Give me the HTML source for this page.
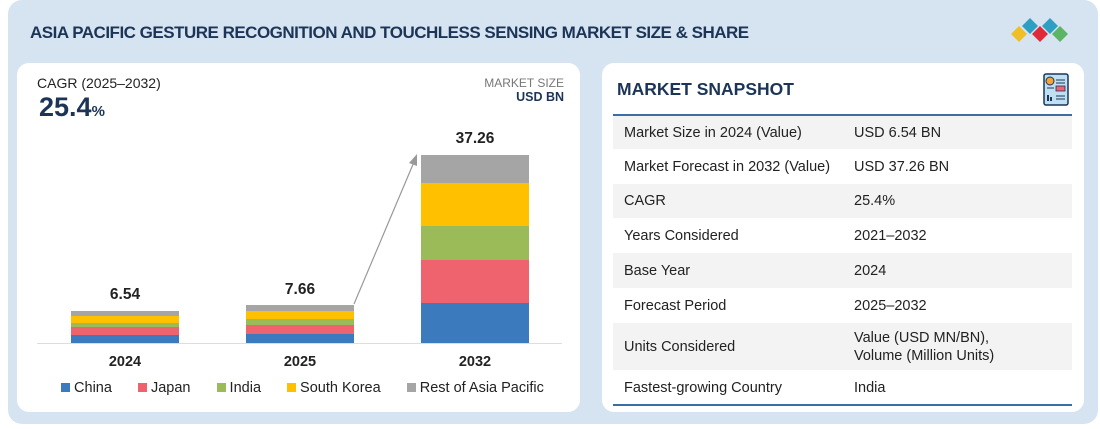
<!DOCTYPE html>
<html><head><style>
*{margin:0;padding:0;box-sizing:border-box}
body{width:1100px;height:429px;background:#fff;font-family:"Liberation Sans",sans-serif;position:relative;overflow:hidden}
.a{position:absolute}
.outer{left:8px;top:0;width:1090px;height:424px;background:#d6e4f1;border-radius:14px}
.card{background:#fff;border-radius:12px}
.t{font-weight:bold;color:#1c3557}
.row{position:absolute;left:613px;width:459px;font-size:14.5px;color:#222}
.row span{position:absolute;top:50%;transform:translateY(-50%)}
.g{background:#f3f3f3}
.seg{position:absolute;left:0;width:108px}
</style></head><body>
<div class="a outer"></div>
<div class="a t" style="left:30px;top:23px;font-size:17px;letter-spacing:-0.5px">ASIA PACIFIC GESTURE RECOGNITION AND TOUCHLESS SENSING MARKET SIZE &amp; SHARE</div>
<svg class="a" style="left:1010px;top:18px" width="60" height="30" viewBox="0 0 60 30">
<polygon points="9,8 17,16 9,24 1,16" fill="#f0bf27"/>
<polygon points="20,0 28,8 20,16 12,8" fill="#2e9fc3"/>
<polygon points="30,8 38,16 30,24 22,16" fill="#e02a3a"/>
<polygon points="40,0 48,8 40,16 32,8" fill="#2e9fc3"/>
<polygon points="50,8 58,16 50,24 42,16" fill="#5bb565"/>
</svg>
<div class="a card" style="left:17px;top:63px;width:563px;height:349px"></div>
<div class="a card" style="left:602px;top:63px;width:482px;height:349px"></div>
<div class="a" style="left:37px;top:75px;font-size:14px;color:#222">CAGR (2025–2032)</div>
<div class="a t" style="left:39px;top:92px;font-size:27px">25.4<span style="font-size:15px">%</span></div>
<div class="a" style="left:440px;top:76px;width:124px;text-align:right;font-size:12px;color:#777">MARKET SIZE</div>
<div class="a" style="left:440px;top:90px;width:124px;text-align:right;font-size:12.5px;font-weight:bold;color:#1c3557">USD BN</div>
<div class="a" style="left:37px;top:343px;width:525px;height:1px;background:#ddd"></div>
<div class="a" style="left:71px;top:311px;width:108px;height:32px">
<div class="seg" style="top:0;height:5px;background:#a5a5a5"></div><div class="seg" style="top:5px;height:7px;background:#ffc000"></div><div class="seg" style="top:12px;height:4px;background:#9bbb59"></div><div class="seg" style="top:16px;height:8px;background:#ee636e"></div><div class="seg" style="top:24px;height:8px;background:#3a7abd"></div></div>
<div class="a" style="left:246px;top:305px;width:108px;height:38px">
<div class="seg" style="top:0;height:6px;background:#a5a5a5"></div><div class="seg" style="top:6px;height:8px;background:#ffc000"></div><div class="seg" style="top:14px;height:6px;background:#9bbb59"></div><div class="seg" style="top:20px;height:9px;background:#ee636e"></div><div class="seg" style="top:29px;height:9px;background:#3a7abd"></div></div>
<div class="a" style="left:421px;top:155px;width:108px;height:188px">
<div class="seg" style="top:0;height:28px;background:#a5a5a5"></div><div class="seg" style="top:28px;height:43px;background:#ffc000"></div><div class="seg" style="top:71px;height:34px;background:#9bbb59"></div><div class="seg" style="top:105px;height:43px;background:#ee636e"></div><div class="seg" style="top:148px;height:40px;background:#3a7abd"></div></div>
<svg class="a" style="left:0;top:0" width="600" height="429"><line x1="354" y1="304" x2="414" y2="162" stroke="#999" stroke-width="1.2"/><polygon points="417,154 409,163 417,166" fill="#999"/></svg>
<div class="a t" style="left:71px;top:286px;width:108px;text-align:center;font-size:15.5px;color:#222">6.54</div>
<div class="a t" style="left:246px;top:281px;width:108px;text-align:center;font-size:15.5px;color:#222">7.66</div>
<div class="a t" style="left:421px;top:130px;width:108px;text-align:center;font-size:15.5px;color:#222">37.26</div>
<div class="a t" style="left:71px;top:354px;width:108px;text-align:center;font-size:14.5px;color:#222">2024</div>
<div class="a t" style="left:246px;top:354px;width:108px;text-align:center;font-size:14.5px;color:#222">2025</div>
<div class="a t" style="left:421px;top:354px;width:108px;text-align:center;font-size:14.5px;color:#222">2032</div>
<div class="a" style="left:61px;top:380px;font-size:14.5px;color:#222;white-space:nowrap">
<span style="display:inline-block;width:9px;height:9px;background:#3a7abd"></span> China
<span style="display:inline-block;width:9px;height:9px;background:#ee636e;margin-left:22px"></span> Japan
<span style="display:inline-block;width:9px;height:9px;background:#9bbb59;margin-left:22px"></span> India
<span style="display:inline-block;width:9px;height:9px;background:#ffc000;margin-left:22px"></span> South Korea
<span style="display:inline-block;width:9px;height:9px;background:#a5a5a5;margin-left:22px"></span> Rest of Asia Pacific
</div>
<div class="a t" style="left:617px;top:79px;font-size:17.5px">MARKET SNAPSHOT</div>
<svg class="a" style="left:1043px;top:73px" width="26" height="33" viewBox="0 0 26 33"><rect x="1" y="1" width="24" height="31" rx="2" fill="#bfe0f3" stroke="#1c3557" stroke-width="1.5"/><circle cx="7" cy="8" r="4" fill="#f3a433" stroke="#1c3557"/><rect x="13" y="13" width="9" height="5" fill="#ee636e" stroke="#1c3557" stroke-width=".8"/><rect x="4" y="22" width="2" height="6" fill="#1c3557"/><rect x="7" y="24" width="2" height="4" fill="#1c3557"/><path d="M13 7h9M13 10h9M4 15h7M13 23h9M13 26h9" stroke="#1c3557"/></svg>
<div class="a" style="left:613px;top:114px;width:459px;height:2px;background:#3a6ea5"></div>
<div class="row g" style="top:116px;height:33px"><span style="left:11px">Market Size in 2024 (Value)</span><span style="left:241px">USD 6.54 BN</span></div>
<div class="row" style="top:149px;height:35px"><span style="left:11px">Market Forecast in 2032 (Value)</span><span style="left:241px">USD 37.26 BN</span></div>
<div class="row g" style="top:184px;height:34px"><span style="left:11px">CAGR</span><span style="left:241px">25.4%</span></div>
<div class="row" style="top:218px;height:35px"><span style="left:11px">Years Considered</span><span style="left:241px">2021–2032</span></div>
<div class="row g" style="top:253px;height:35px"><span style="left:11px">Base Year</span><span style="left:241px">2024</span></div>
<div class="row" style="top:288px;height:35px"><span style="left:11px">Forecast Period</span><span style="left:241px">2025–2032</span></div>
<div class="row g" style="top:323px;height:47px"><span style="left:11px">Units Considered</span><span style="left:241px;line-height:18px">Value (USD MN/BN),<br>Volume (Million Units)</span></div>
<div class="row" style="top:370px;height:35px"><span style="left:11px">Fastest-growing Country</span><span style="left:241px">India</span></div>
<div class="a" style="left:613px;top:404px;width:459px;height:2px;background:#3a6ea5"></div>
</body></html>
